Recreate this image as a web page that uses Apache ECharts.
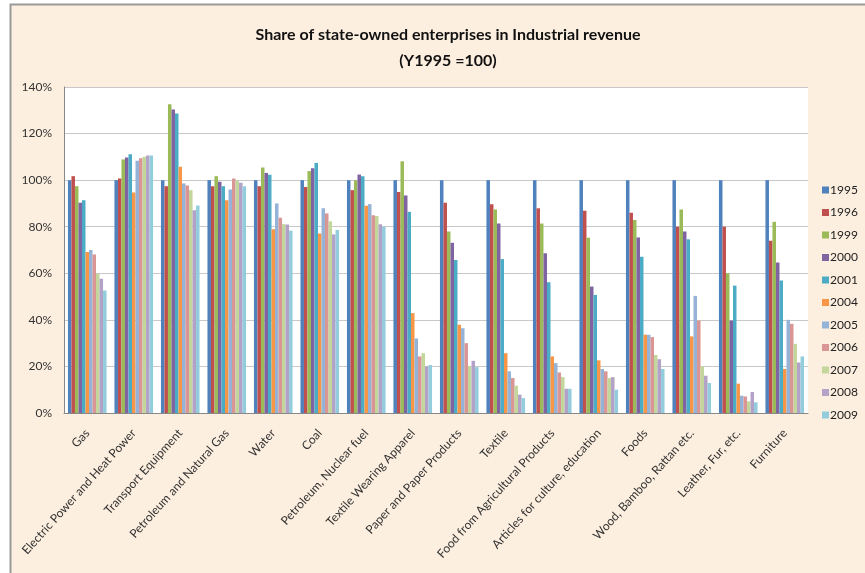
<!DOCTYPE html>
<html><head><meta charset="utf-8">
<script src="https://cdn.jsdelivr.net/npm/echarts@6/dist/echarts.min.js"></script>
<style>html,body{margin:0;padding:0;background:#fff;}#c{width:865px;height:573px;}</style>
</head><body><div id="c"></div>
<script>
var categories = ["Gas","Electric Power and Heat Power","Transport Equipment","Petroleum and Natural Gas","Water","Coal","Petroleum, Nuclear fuel","Textile Wearing Apparel","Paper and Paper Products","Textile","Food from Agricultural Products","Articles for culture, education","Foods","Wood, Bamboo, Rattan etc.","Leather, Fur, etc.","Furniture"];
var years = ["1995","1996","1999","2000","2001","2004","2005","2006","2007","2008","2009"];
var yTicks = ["0%","20%","40%","60%","80%","100%","120%","140%"];
// values per category in year order
var vGas          = [100,101.7,97.4,90.3,91.4,69.1,70.0,68.1,59.7,57.6,52.6];
var vElectric     = [100,100.7,108.9,109.7,111.1,94.7,108.3,109.4,110.0,110.6,110.6];
var vTransport    = [100,97.4,132.6,130.3,128.6,105.7,98.6,97.7,95.7,87.1,89.1];
var vPetroGas     = [100,97.4,101.7,99.3,97.4,91.4,96.0,100.7,99.7,98.9,97.4];
var vWater        = [100,97.4,105.4,103.1,102.3,78.9,90.0,83.9,81.1,80.9,78.3];
var vCoal         = [100,97.1,103.9,105.1,107.4,77.1,87.9,85.7,82.4,76.7,78.6];
var vPetroNuclear = [100,95.7,100.0,102.4,101.7,89.0,89.7,84.9,84.6,81.1,80.0];
var vApparel      = [100,94.9,108.1,93.4,86.4,42.9,32.0,24.3,25.7,20.0,20.6];
var vPaper        = [100,90.3,77.9,73.1,65.7,37.9,36.4,30.0,20.0,22.4,19.7];
var vTextile      = [100,89.7,87.4,81.4,66.1,25.7,17.9,15.0,11.7,7.9,6.4];
var vFoodAgri     = [100,87.9,81.4,68.6,56.1,24.3,21.4,17.4,15.4,10.4,10.4];
var vCulture      = [100,86.9,75.3,54.3,50.7,22.6,18.9,17.9,15.0,15.4,10.0];
var vFoods        = [100,86.0,82.9,75.4,67.1,33.6,33.6,32.6,24.9,23.1,18.9];
var vWood         = [100,80.0,87.4,77.9,74.6,32.9,50.3,39.7,20.0,16.0,12.9];
var vLeather      = [100,80.0,60.0,39.7,54.7,12.6,7.4,7.1,5.0,9.0,4.6];
var vFurniture    = [100,74.0,82.1,64.6,56.9,18.9,40.0,38.3,29.7,21.7,24.3];
var byCategory = [vGas,vElectric,vTransport,vPetroGas,vWater,vCoal,vPetroNuclear,vApparel,vPaper,vTextile,vFoodAgri,vCulture,vFoods,vWood,vLeather,vFurniture];
var colors = ["#4F81BD","#C0504D","#9BBB59","#8064A2","#4BACC6","#F79646","#95B3D7","#D99694","#C3D69B","#B3A2C7","#93CDDD"];

var series = years.map(function(y, i){
  return {
    name: y, type: 'bar', barGap: '0%', barCategoryGap: '17%',
    itemStyle: {color: colors[i]},
    data: byCategory.map(function(row){ return row[i]; })
  };
});

var chart = echarts.init(document.getElementById('c'));
chart.setOption({
  backgroundColor: '#fff',
  animation: false,
  color: colors,
  graphic: [{
    type: 'rect', z: -10, silent: true,
    shape: {x: 10.5, y: 4.5, width: 870, height: 580},
    style: {fill: '#FDEFDF', stroke: '#9a9a9a', lineWidth: 2}
  }],
  title: [{
    text: 'Share of state-owned enterprises in Industrial revenue',
    left: 443, top: 22, textAlign: 'center',
    textStyle: {fontFamily: 'Lato', fontSize: 16, fontWeight: 'bold', color: '#111'}
  },{
    text: '(Y1995 =100)',
    left: 443, top: 48, textAlign: 'center',
    textStyle: {fontFamily: 'Lato', fontSize: 16, fontWeight: 'bold', color: '#111'}
  }],
  legend: {
    orient: 'vertical', left: 822, top: 184, itemGap: 10.5,
    itemWidth: 7, itemHeight: 7, icon: 'rect', padding: 0,
    textStyle: {fontFamily: 'Lato', fontSize: 12, color: '#222', padding: [0,0,0,-4]},
    data: years
  },
  grid: {left: 64, right: 57, top: 87, bottom: 160, containLabel: false, show: true, backgroundColor: '#fff', borderWidth: 0},
  xAxis: {
    type: 'category', data: categories,
    axisLine: {show: true, lineStyle: {color: '#888'}},
    axisTick: {show: false},
    axisLabel: {rotate: 48, interval: 0, margin: 18, fontFamily: 'Lato', fontSize: 12, color: '#333'}
  },
  yAxis: {
    type: 'value', min: 0, max: 140, interval: 20,
    axisLine: {show: true, lineStyle: {color: '#888'}},
    axisTick: {show: false},
    splitLine: {lineStyle: {color: '#c8c8c8'}},
    axisLabel: {fontFamily: 'Lato', fontSize: 12, color: '#333', margin: 12,
      formatter: function(v){ return yTicks[Math.round(v/20)]; }}
  },
  series: series
});
</script></body></html>
